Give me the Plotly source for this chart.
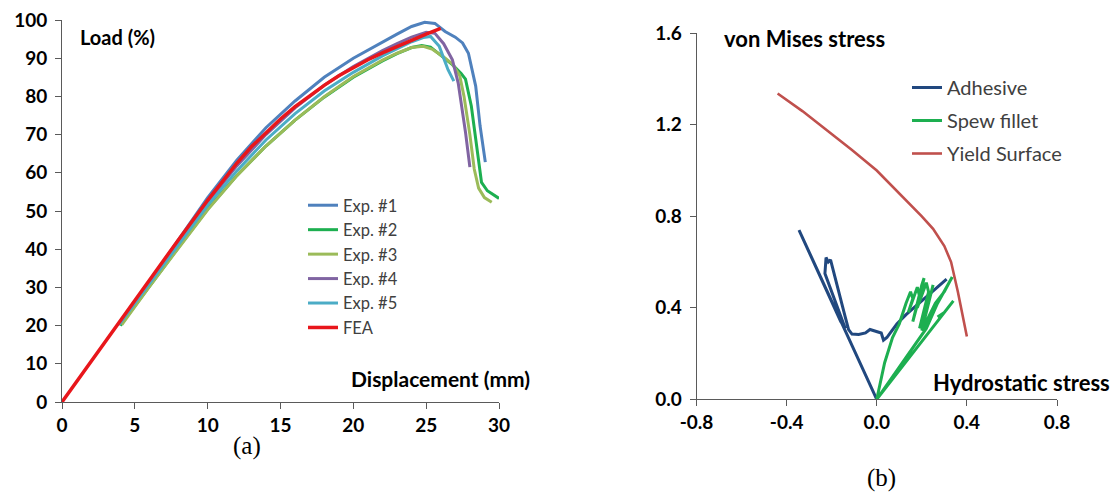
import plotly.graph_objects as go

W, H = 1119, 492

# ---------------- Left panel data: Load (%) vs Displacement (mm) ----------------
exp1_x = [4.0, 6, 8, 10, 12, 14, 16, 18, 20, 22, 23, 24, 24.9, 25.6, 26.3, 27.0, 27.5, 27.9, 28.2, 28.4, 28.7, 29.06]
exp1_y = [20.5, 31.5, 42.5, 53.5, 63.3, 71.8, 78.8, 85.0, 90.0, 94.3, 96.3, 98.3, 99.4, 99.1, 97.0, 95.5, 94.0, 91.3, 86.5, 82.7, 72.3, 62.8]

exp2_x = [4.0, 6, 8, 10, 12, 14, 16, 18, 20, 22, 23, 24, 24.7, 25.3, 26.0, 26.8, 27.4, 27.7, 28.1, 28.5, 28.8, 29.2, 29.6, 30.0]
exp2_y = [20.0, 30.3, 40.5, 50.5, 59.3, 67.0, 73.8, 79.8, 85.0, 89.3, 91.2, 92.8, 93.3, 92.9, 90.8, 88.3, 86.0, 84.5, 77.5, 66.2, 57.5, 55.3, 54.2, 53.3]

exp3_x = [4.1, 6, 8, 10, 12, 14, 16, 18, 20, 22, 23, 24, 24.8, 25.4, 26.2, 26.8, 27.3, 27.6, 28.0, 28.3, 28.6, 29.0, 29.5]
exp3_y = [20.2, 30.2, 40.3, 50.3, 59.2, 67.0, 73.8, 79.9, 85.2, 89.5, 91.3, 92.8, 93.1, 92.4, 90.3, 88.5, 85.5, 80.0, 70.0, 61.0, 56.0, 53.5, 52.3]

exp4_x = [4.0, 6, 8, 10, 12, 14, 16, 18, 20, 22, 23, 24, 25.0, 25.6, 26.2, 26.8, 27.2, 27.5, 27.7, 28.0]
exp4_y = [20.8, 31.3, 41.8, 52.3, 61.8, 70.0, 77.0, 82.9, 87.8, 92.0, 93.8, 95.5, 96.8, 96.5, 93.8, 89.6, 83.5, 76.0, 70.6, 61.5]

exp5_x = [3.9, 6, 8, 10, 12, 14, 16, 18, 20, 22, 23, 24, 24.8, 25.3, 25.9, 26.5, 26.9]
exp5_y = [20.2, 30.8, 41.2, 51.5, 60.5, 68.6, 75.5, 81.4, 86.3, 90.6, 92.5, 94.3, 95.4, 95.7, 93.1, 87.0, 84.0]

fea_x = [0, 2, 4, 6, 8, 10, 11, 12, 13, 14, 15, 16, 17, 18, 19, 20, 21, 22, 23, 24, 25, 26]
fea_y = [0, 10.7, 21.4, 32.0, 42.5, 52.8, 57.8, 62.5, 66.8, 70.6, 74.1, 77.3, 80.2, 82.9, 85.4, 87.6, 89.6, 91.4, 93.1, 94.7, 96.3, 97.8]

left_names = ["Exp. #1", "Exp. #2", "Exp. #3", "Exp. #4", "Exp. #5", "FEA"]
left_x_ticks = [0, 5, 10, 15, 20, 25, 30]
left_y_ticks = [0, 10, 20, 30, 40, 50, 60, 70, 80, 90, 100]

# ---------------- Right panel data: von Mises vs Hydrostatic stress ----------------
adh_x = [0.0, -0.345, -0.28, -0.22, -0.16, -0.14, -0.18, -0.23, -0.225, -0.215, -0.205, -0.195, -0.17, -0.14,
         -0.125, -0.11, -0.08, -0.05, -0.03, -0.01, 0.02, 0.03, 0.045, 0.06, 0.09, 0.13, 0.2, 0.27, 0.31]
adh_y = [0.0, 0.74, 0.60, 0.47, 0.34, 0.31, 0.42, 0.55, 0.62, 0.60, 0.61, 0.57, 0.47, 0.36,
         0.305, 0.285, 0.283, 0.29, 0.305, 0.30, 0.29, 0.258, 0.27, 0.29, 0.33, 0.37, 0.43, 0.49, 0.525]

spew_x = [0.0, 0.035, 0.07, 0.10, 0.13, 0.15, 0.16, 0.14, 0.18, 0.19, 0.16, 0.20, 0.21, 0.18, 0.22, 0.23, 0.19,
          0.24, 0.25, 0.20, 0.26, 0.30, 0.335, 0.27, 0.22, 0.0, 0.34, 0.30, 0.27]
spew_y = [0.0, 0.16, 0.27, 0.33, 0.42, 0.47, 0.44, 0.38, 0.49, 0.45, 0.34, 0.50, 0.53, 0.40, 0.51, 0.47, 0.31,
          0.46, 0.50, 0.30, 0.42, 0.47, 0.535, 0.42, 0.31, 0.0, 0.43, 0.38, 0.36]

yield_x = [-0.44, -0.33, -0.22, -0.11, 0.0, 0.10, 0.20, 0.25, 0.30, 0.33, 0.36, 0.40]
yield_y = [1.337, 1.26, 1.175, 1.09, 1.0, 0.90, 0.80, 0.745, 0.67, 0.60, 0.47, 0.275]

right_names = ["Adhesive", "Spew fillet", "Yield Surface"]
right_x_ticks = [-0.8, -0.4, 0.0, 0.4, 0.8]
right_y_ticks = [0.0, 0.4, 0.8, 1.2, 1.6]

# ---------------- Figure ----------------
FONT = "Lato"
fig = go.Figure()

left_series = [
    (exp1_x, exp1_y, "#4F81BD", 3),
    (exp2_x, exp2_y, "#1DAF50", 3),
    (exp3_x, exp3_y, "#9BBB59", 3),
    (exp4_x, exp4_y, "#8064A2", 3),
    (exp5_x, exp5_y, "#4BACC6", 3),
    (fea_x, fea_y, "#E8161B", 3.5),
]
for name, (xs, ys, col, w) in zip(left_names, left_series):
    fig.add_trace(go.Scatter(x=xs, y=ys, mode="lines", name=name,
                             line=dict(color=col, width=w),
                             xaxis="x", yaxis="y", legend="legend",
                             legendgroup=name))

right_series = [
    (adh_x, adh_y, "#21487F", 3),
    (spew_x, spew_y, "#1DAF50", 3),
    (yield_x, yield_y, "#C0504D", 2.6),
]
for name, (xs, ys, col, w) in zip(right_names, right_series):
    fig.add_trace(go.Scatter(x=xs, y=ys, mode="lines", name=name,
                             line=dict(color=col, width=w),
                             xaxis="x2", yaxis="y2", legend="legend2",
                             legendgroup=name))

def px(v):
    return v / W

def py(v):
    return (H - v) / H

axis_common = dict(showgrid=False, zeroline=False, showline=True, linecolor="#5a5a5a", linewidth=1,
                   ticks="outside", tickcolor="#5a5a5a", ticklen=6, tickwidth=1, automargin=False,
                   tickfont=dict(family=FONT, size=19, color="#000000", weight="bold"))

fig.update_layout(
    width=W, height=H,
    margin=dict(l=0, r=0, t=0, b=0, autoexpand=False),
    paper_bgcolor="white", plot_bgcolor="white",
    showlegend=True,
    xaxis=dict(domain=[px(62), px(499)], range=[0, 30], tickvals=left_x_ticks,
               anchor="y", **axis_common),
    yaxis=dict(domain=[py(402), py(20)], range=[0, 100], tickvals=left_y_ticks,
               anchor="x", ticklabelstandoff=4, **axis_common),
    xaxis2=dict(domain=[px(696.5), px(1057)], range=[-0.8, 0.8], tickvals=right_x_ticks,
                ticktext=[f"{v:.1f}" for v in right_x_ticks], anchor="y2", **axis_common),
    yaxis2=dict(domain=[py(399.3), py(33.3)], range=[0, 1.6], tickvals=right_y_ticks,
                ticktext=[f"{v:.1f}" for v in right_y_ticks], anchor="x2", ticklabelstandoff=4,
                **axis_common),
    legend=dict(x=px(303), y=py(188), xanchor="left", yanchor="top",
                font=dict(family=FONT, size=16.5, color="#404040"),
                bgcolor="rgba(0,0,0,0)", tracegroupgap=0, traceorder="normal"),
    legend2=dict(x=px(907), y=py(68), xanchor="left", yanchor="top",
                 font=dict(family=FONT, size=20, color="#404040"),
                 bgcolor="rgba(0,0,0,0)", tracegroupgap=4, traceorder="grouped"),
)

ann = [
    dict(text="Load (%)", x=px(78), y=py(37), size=20),
    dict(text="Displacement (mm)", x=px(349), y=py(378), size=21),
    dict(text="von Mises stress", x=px(722), y=py(38), size=22),
    dict(text="Hydrostatic stress", x=px(931), y=py(382), size=22),
]
for a in ann:
    fig.add_annotation(text=a["text"], x=a["x"], y=a["y"], xref="paper", yref="paper",
                       xanchor="left", yanchor="middle", showarrow=False,
                       font=dict(family=FONT, size=a["size"], color="#000000", weight="bold"))

fig.add_annotation(text="(a)", x=px(247), y=py(446), xref="paper", yref="paper", showarrow=False,
                   xanchor="center", yanchor="middle",
                   font=dict(family="Liberation Serif", size=25, color="#000000"))
fig.add_annotation(text="(b)", x=px(881), y=py(478), xref="paper", yref="paper", showarrow=False,
                   xanchor="center", yanchor="middle",
                   font=dict(family="Liberation Serif", size=25, color="#000000"))

fig.write_html("out.html")
